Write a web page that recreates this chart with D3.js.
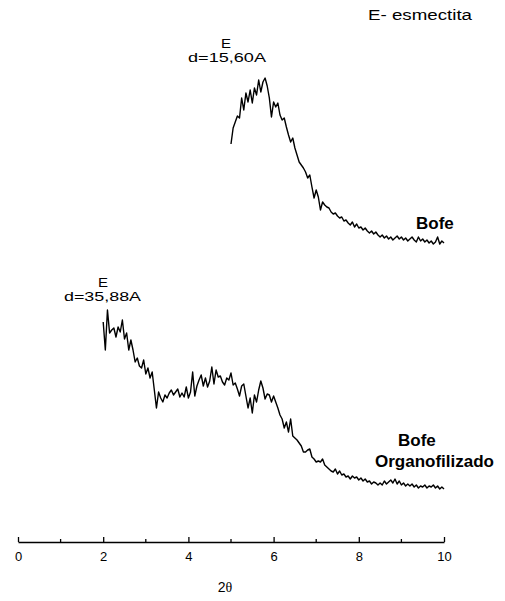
<!DOCTYPE html>
<html>
<head>
<meta charset="utf-8">
<script src="https://cdn.jsdelivr.net/npm/d3@7"></script>
<style>
  html, body { margin: 0; padding: 0; background: #fff; }
  svg { display: block; font-family: Arial, "Liberation Sans", sans-serif; }
</style>
</head>
<body>
<svg id="chart" width="505" height="601"></svg>
<script>
// XRD patterns, 2θ from start in steps of 0.05°, intensity in arbitrary counts
const step = 0.05;

const bofeStart = 5.0;
const bofeCounts = [
  398, 414, 420, 426, 424, 444, 432, 449, 440, 452,
  439, 454, 447, 462, 450, 460, 464, 456, 444, 425,
  440, 435, 439, 427, 422, 424, 415, 407, 400, 404,
  394, 387, 380, 377, 374, 370, 364, 367, 355, 344,
  352, 345, 332, 340, 337, 335, 334, 330, 328, 329,
  326, 324, 325, 321, 322, 319, 317, 320, 315, 318,
  314, 315, 312, 314, 311, 309, 311, 308, 310, 307,
  305, 307, 304, 306, 303, 305, 302, 304, 306, 303,
  305, 302, 304, 301, 303, 305, 302, 300, 305, 301,
  303, 300, 302, 299, 301, 298, 300, 305, 298, 301,
  299
];

const organoStart = 2.0;
const organoCounts = [
  220, 192, 232, 209, 212, 214, 205, 215, 210, 222,
  203, 209, 192, 202, 192, 180, 184, 176, 174, 182,
  168, 174, 164, 170, 152, 134, 150, 144, 140, 147,
  144, 149, 152, 147, 150, 153, 145, 149, 145, 155,
  144, 150, 170, 146, 156, 162, 167, 156, 164, 155,
  161, 175, 158, 172, 165, 166, 160, 157, 164, 162,
  169, 157, 159, 153, 146, 156, 158, 146, 134, 144,
  129, 147, 140, 152, 161, 154, 143, 148, 147, 140,
  146, 140, 134, 127, 123, 114, 120, 110, 123, 106,
  104, 102, 99, 96, 90, 90, 92, 93, 85, 83,
  80, 81, 80, 83, 77, 75, 73, 71, 70, 73,
  68, 71, 67, 68, 65, 66, 63, 66, 64, 65,
  62, 64, 61, 63, 60, 61, 58, 60, 59, 57,
  59, 57, 61, 58, 60, 62, 59, 63, 58, 61,
  57, 59, 56, 58, 56, 58, 55, 57, 54, 56,
  55, 57, 54, 56, 55, 57, 54, 56, 53, 55,
  53
];

const xTicks = [0, 2, 4, 6, 8, 10];
const xMinorTicks = [1, 3, 5, 7, 9];

const svg = d3.select("#chart");

const x = d3.scaleLinear().domain([0, 10]).range([18, 444]);
const y = d3.scaleLinear().domain([0, 500]).range([542, 42]);

function toPoints(start, counts) {
  return counts.map((c, i) => [start + i * step, c]);
}

const line = d3.line()
  .x(d => x(d[0]))
  .y(d => y(d[1]));

[[bofeStart, bofeCounts], [organoStart, organoCounts]].forEach(([s, c]) => {
  svg.append("path")
    .datum(toPoints(s, c))
    .attr("d", line)
    .attr("fill", "none")
    .attr("stroke", "#000")
    .attr("stroke-width", 1.4)
    .attr("stroke-linejoin", "round");
});

// bottom axis with ticks pointing up into the plot
const axisY = 542;
const gx = svg.append("g").attr("transform", `translate(0,${axisY})`);
gx.call(d3.axisBottom(x).tickValues(xTicks).tickSize(-5).tickPadding(10).tickSizeOuter(0)
  .tickFormat(d3.format("d")));
gx.select(".domain").attr("stroke", "#000").attr("stroke-width", 1.4);
gx.selectAll(".tick line").attr("stroke", "#000").attr("stroke-width", 1.3);
gx.selectAll(".tick text").attr("font-size", 13).attr("fill", "#000")
  .attr("font-family", "Arial, 'Liberation Sans', sans-serif");

gx.selectAll(".minor")
  .data(xMinorTicks)
  .join("line")
  .attr("class", "minor")
  .attr("x1", d => x(d)).attr("x2", d => x(d))
  .attr("y1", 0).attr("y2", -3)
  .attr("stroke", "#000").attr("stroke-width", 1.3);

// axis title: "2" in sans, theta in a serif face
const xTitle = svg.append("text")
  .attr("x", 225).attr("y", 592)
  .attr("text-anchor", "middle")
  .attr("font-size", 14);
xTitle.append("tspan").text("2");
xTitle.append("tspan").attr("font-family", "'Liberation Serif', 'DejaVu Serif', serif").text("θ");

// annotations; the thin lettering is drawn slightly wide
function label(tx, ty, str, size, width, opts = {}) {
  const t = svg.append("text")
    .attr("x", tx).attr("y", ty)
    .attr("font-size", size)
    .text(str);
  if (width) t.attr("textLength", width).attr("lengthAdjust", "spacingAndGlyphs");
  if (opts.bold) t.attr("font-weight", "bold");
  if (opts.anchor) t.attr("text-anchor", opts.anchor);
  return t;
}

label(368, 20, "E- esmectita", 14, 104);

label(221, 48, "E", 13, 10);
label(188, 62, "d=15,60A", 13, 78);

label(98, 287, "E", 13, 10);
label(64, 301, "d=35,88A", 13, 77);

label(416, 229, "Bofe", 17, null, { bold: true });

label(398, 446, "Bofe", 17, null, { bold: true });
label(494, 467, "Organofilizado", 17, null, { bold: true, anchor: "end" });
</script>
</body>
</html>
